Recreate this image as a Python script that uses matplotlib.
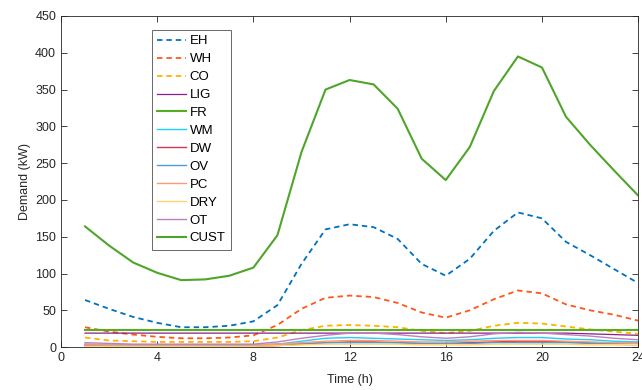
import numpy as np
import matplotlib
matplotlib.use("Agg")
import matplotlib.pyplot as plt

plt.rcParams['font.family'] = ['Liberation Sans', 'DejaVu Sans']

hours = list(range(1, 25))

EH = [64, 52, 41, 33, 27, 27, 29, 35, 57, 113, 160, 167, 163, 147, 113, 97, 120, 158, 183, 175, 143, 125, 106, 87]
WH = [27, 21, 17, 14, 12, 12, 13, 16, 30, 52, 67, 70, 68, 60, 47, 40, 50, 65, 77, 73, 58, 50, 44, 36]
CO = [13, 9, 8, 7, 7, 7, 7, 8, 13, 23, 29, 30, 29, 27, 22, 19, 22, 29, 33, 32, 28, 24, 21, 18]
LIG = [19, 19, 19, 19, 19, 19, 19, 19, 19, 19, 19, 19, 19, 19, 19, 19, 19, 19, 19, 19, 19, 18, 17, 16]
FR = [23] * 24
WM = [3, 2, 2, 2, 2, 2, 2, 2, 4, 8, 12, 13, 12, 11, 10, 9, 10, 12, 13, 13, 11, 10, 8, 7]
DW = [2, 1, 1, 1, 1, 1, 1, 1, 2, 4, 6, 7, 7, 6, 5, 5, 6, 7, 8, 8, 7, 6, 5, 5]
OV = [4, 3, 3, 3, 3, 3, 3, 3, 4, 5, 6, 6, 6, 6, 5, 5, 5, 6, 6, 6, 6, 5, 5, 5]
PC = [3, 3, 3, 3, 3, 3, 3, 3, 4, 6, 8, 9, 9, 8, 7, 7, 8, 9, 9, 9, 8, 7, 6, 5]
DRY = [1, 1, 1, 1, 1, 1, 1, 1, 2, 3, 4, 4, 4, 4, 3, 3, 3, 4, 4, 4, 4, 3, 3, 2]
OT = [6, 5, 4, 4, 4, 4, 4, 4, 7, 12, 16, 19, 19, 17, 14, 12, 14, 18, 20, 19, 17, 15, 12, 10]
CUST = [164, 138, 115, 101, 91, 92, 97, 108, 152, 265, 350, 363, 357, 324, 256, 227, 272, 348, 395, 380, 313, 275, 240, 206]

series = [
    ('EH', EH, '#0072BD', '--', 1.3),
    ('WH', WH, '#FF5719', '--', 1.3),
    ('CO', CO, '#FFB100', '--', 1.3),
    ('LIG', LIG, '#8B1D8B', '-', 0.9),
    ('FR', FR, '#58AC1F', '-', 1.5),
    ('WM', WM, '#1FCFF5', '-', 1.0),
    ('DW', DW, '#D8354F', '-', 1.0),
    ('OV', OV, '#4D9DDA', '-', 1.0),
    ('PC', PC, '#FF9B73', '-', 1.0),
    ('DRY', DRY, '#FFD36E', '-', 1.0),
    ('OT', OT, '#BF7FBF', '-', 1.0),
    ('CUST', CUST, '#4FA52A', '-', 1.5),
]

fig = plt.figure(figsize=(6.42, 3.9), dpi=100)
ax = fig.add_axes([0.095, 0.110, 0.899, 0.849])

for name, vals, col, ls, lw in series:
    ax.plot(hours, vals, color=col, linestyle=ls, linewidth=lw, label=name,
            dashes=(3, 2.2) if ls == '--' else (None, None))

ax.set_xlim(0, 24)
ax.set_ylim(0, 450)
ax.set_xticks(np.arange(0, 25, 4))
ax.set_yticks(np.arange(0, 451, 50))
ax.tick_params(direction='in', top=True, right=True, labelsize=9, colors='#262626', length=4, width=0.6)
for s in ax.spines.values():
    s.set_color('#262626')
    s.set_linewidth(0.6)
ax.set_xlabel('Time (h)', fontsize=9, color='#262626', labelpad=7)
ax.set_ylabel('Demand (kW)', fontsize=9, color='#262626', labelpad=3)

leg = ax.legend(loc='upper left', bbox_to_anchor=(0.158, 0.958), fontsize=9.5,
                frameon=True, fancybox=False, handlelength=2.2, handletextpad=0.25,
                labelspacing=0.43, borderpad=0.4, borderaxespad=0)
leg.get_frame().set_edgecolor('#262626')
leg.get_frame().set_linewidth(0.6)

fig.savefig('out.png', dpi=100)
